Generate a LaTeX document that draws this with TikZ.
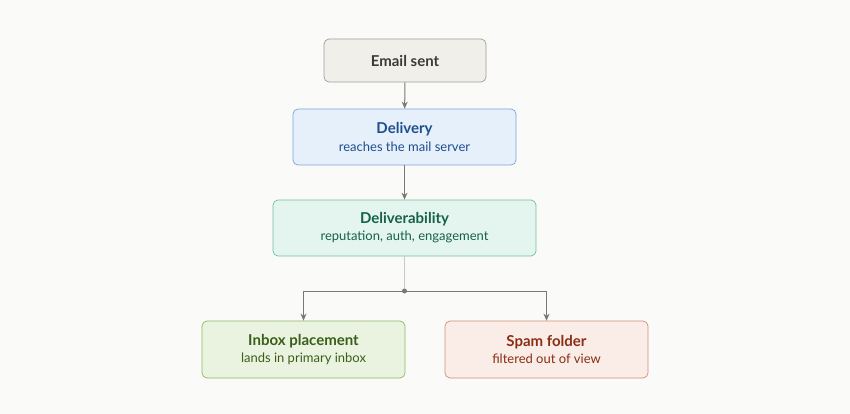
\documentclass[tikz,border=0pt]{standalone}
\usepackage{fontspec}
\setmainfont{Lato}
\usetikzlibrary{arrows.meta}
\definecolor{bg}{HTML}{FAFAF8}
\definecolor{gfill}{HTML}{F1EFEA}\definecolor{gdraw}{HTML}{A09D96}\definecolor{gtext}{HTML}{3D3B37}
\definecolor{bfill}{HTML}{E6F0FB}\definecolor{bdraw}{HTML}{7BA6D6}\definecolor{btext}{HTML}{1E4E8C}
\definecolor{tfill}{HTML}{E3F5EE}\definecolor{tdraw}{HTML}{72BFA0}\definecolor{ttext}{HTML}{17614A}
\definecolor{lfill}{HTML}{EAF3DF}\definecolor{ldraw}{HTML}{8DB86A}\definecolor{ltext}{HTML}{3A5E1A}
\definecolor{rfill}{HTML}{FAECE7}\definecolor{rdraw}{HTML}{D28C78}\definecolor{rtext}{HTML}{8A2E14}
\definecolor{arr}{HTML}{7A7874}
\newcommand{\boxtitle}[1]{{\fontsize{15}{17}\selectfont\bfseries #1}}
\newcommand{\boxsub}[1]{{\fontsize{13}{15}\selectfont #1}}
\tikzset{x=1pt,y=-1pt,
 box/.style={draw,rounded corners=5pt,line width=0.7pt,align=center,inner sep=0pt},
 conn/.style={arr,line width=1pt,-{Stealth[length=7pt,width=6pt]}}}
\begin{document}
\begin{tikzpicture}
\fill[bg] (0,0) rectangle (850,414);
\useasboundingbox (0,0) rectangle (850,414);
\node[box,fill=gfill,draw=gdraw,minimum width=162pt,minimum height=43pt,text=gtext] (e) at (405,60.5) {\boxtitle{Email sent}};
\node[box,fill=bfill,draw=bdraw,minimum width=223pt,minimum height=56pt,text=btext] (d) at (404.5,137) {\boxtitle{Delivery}\\[4pt]\boxsub{reaches the mail server}};
\node[box,fill=tfill,draw=tdraw,minimum width=263pt,minimum height=56pt,text=ttext] (v) at (404.5,228) {\boxtitle{Deliverability}\\[4pt]\boxsub{reputation, auth, engagement}};
\node[box,fill=lfill,draw=ldraw,minimum width=203pt,minimum height=57pt,text=ltext] (i) at (303.5,349.5) {\boxtitle{Inbox placement}\\[4pt]\boxsub{lands in primary inbox}};
\node[box,fill=rfill,draw=rdraw,minimum width=203pt,minimum height=57pt,text=rtext] (p) at (546.5,349.5) {\boxtitle{Spam folder}\\[4pt]\boxsub{filtered out of view}};
\coordinate (j) at (404.5,291);
\draw[conn] (e) -- (d);
\draw[conn] (d) -- (v);
\draw[arr!40,line width=0.8pt] (v) -- (j);
\draw[conn] (j) -| (i);
\draw[conn] (j) -| (p);
\fill[arr] (j) circle (2.5pt);
\end{tikzpicture}
\end{document}
